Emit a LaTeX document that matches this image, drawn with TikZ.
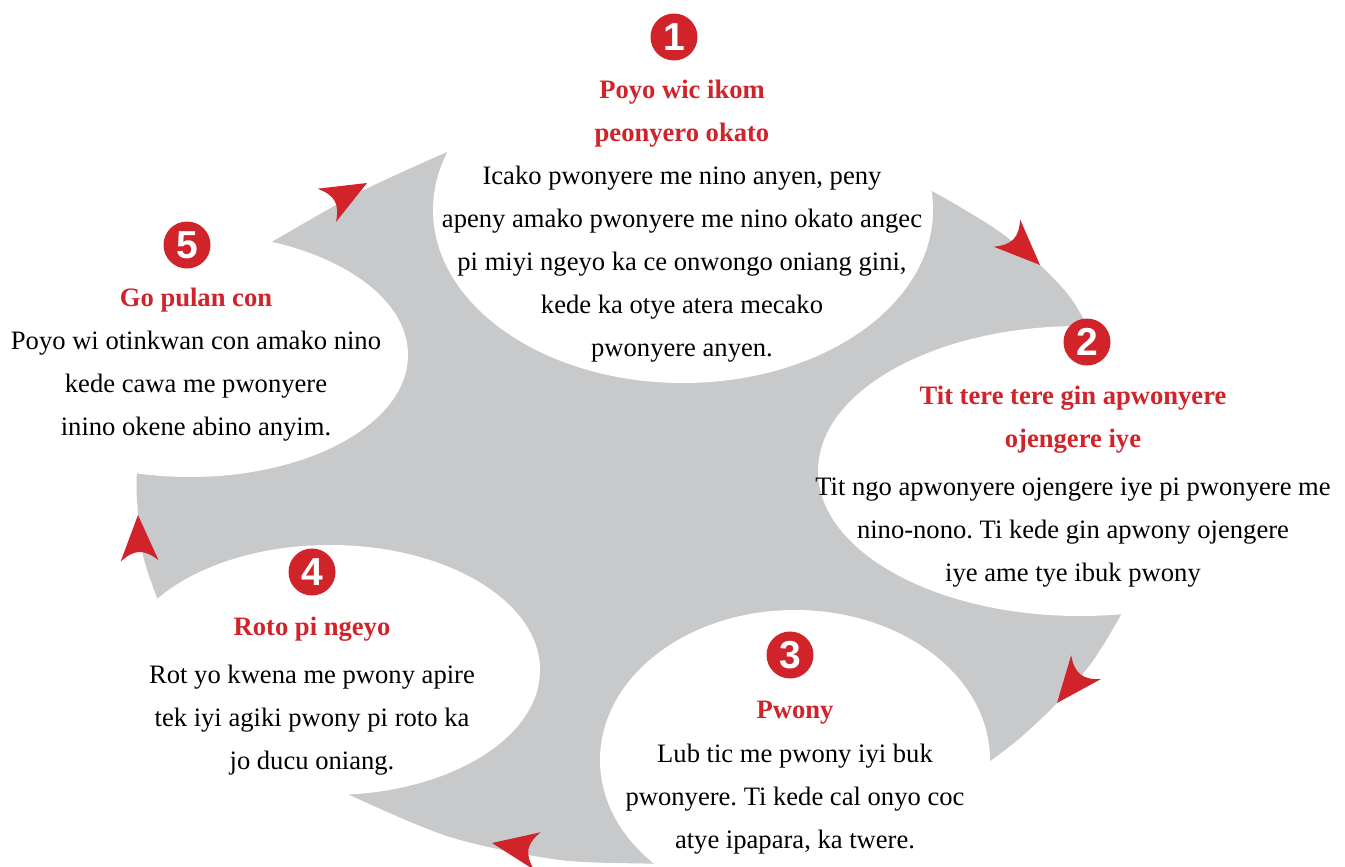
\documentclass[tikz,border=0pt]{standalone}
\usepackage{fontspec}
\setmainfont{Liberation Serif}
\newfontfamily\numfont{Liberation Sans}
\frenchspacing
\definecolor{ringgrey}{RGB}{200,201,203}
\definecolor{tipred}{RGB}{209,35,42}
\tikzset{
  hole/.style={fill=white},
  numdisc/.style={circle, fill=tipred, minimum size=23.5pt, inner sep=0pt, text=white,
    font=\fontsize{19.5}{20}\numfont\bfseries},
  headtext/.style={text=tipred, align=center, inner sep=0pt,
    font=\fontsize{13.3}{21.5}\selectfont\bfseries},
  bodytext/.style={align=center, inner sep=0pt, font=\fontsize{13.3}{21.5}\selectfont},
  redhead/.pic={\fill[tipred] (0,0) -- (-46,19) .. controls (-34,5) and (-34,-5) .. (-46,-19) -- cycle;}
}
\begin{document}
\begin{tikzpicture}[x=0.5pt, y=-0.5pt]
\useasboundingbox (0,0) rectangle (1345,867);
% grey ring, blades joined inside the white holes
\fill[ringgrey] plot[smooth] coordinates {(170,635) (157,598) (143,555) (137,500) (137,470) (140,440)}
  -- plot[smooth] coordinates {(240,260) (275,240) (360,192) (447,152) (480,138)}
  -- plot[smooth] coordinates {(905,177) (930,190) (960,207) (1000,232) (1040,265) (1070,297) (1090,330) (1100,345)}
  -- plot[smooth] coordinates {(1140,575) (1122,613) (1092,662) (1057,703) (1020,738) (985,765) (960,783)}
  -- plot[smooth] coordinates {(700,868) (660,864) (560,860) (450,837) (345,793) (310,775)}
  -- cycle;
\fill[hole] (683,210) ellipse [x radius=250, y radius=173];
\fill[hole] (1080,471) ellipse [x radius=262, y radius=145];
\fill[hole] (795,760) ellipse [x radius=195, y radius=150];
\fill[hole] (330,670) ellipse [x radius=210, y radius=125];
\fill[hole] (190,355) ellipse [x radius=218, y radius=122];
\pic[rotate=29] at (367,183) {redhead};
\pic[rotate=-44] at (1040,265) {redhead};
\pic[rotate=-129] at (1057,703) {redhead};
\pic[rotate=170] at (492,843) {redhead};
\pic[rotate=92] at (138,515) {redhead};
\node[numdisc] (n1) at (674,37) {1};
\node[headtext] (t1) at (682,114) {Poyo wic ikom\\peonyero okato};
\node[bodytext] (b1) at (682,264) {Icako pwonyere me nino anyen, peny\\apeny amako pwonyere me nino okato angec\\pi miyi ngeyo ka ce onwongo oniang gini,\\kede ka otye atera mecako\\pwonyere anyen.};
\node[numdisc] (n2) at (1087,342) {2};
\node[headtext] (t2) at (1073,420) {Tit tere tere gin apwonyere\\ojengere iye};
\node[bodytext] (b2) at (1073,533) {Tit ngo apwonyere ojengere iye pi pwonyere me\\nino-nono. Ti kede gin apwony ojengere\\iye ame tye ibuk pwony};
\node[numdisc] (n3) at (790,655) {3};
\node[headtext] (t3) at (795,713) {Pwony};
\node[bodytext] (b3) at (795,799) {Lub tic me pwony iyi buk\\pwonyere. Ti kede cal onyo coc\\atye ipapara, ka twere.};
\node[numdisc] (n4) at (312,572) {4};
\node[headtext] (t4) at (312,629) {Roto pi ngeyo};
\node[bodytext] (b4) at (312,720) {Rot yo kwena me pwony apire\\tek iyi agiki pwony pi roto ka\\jo ducu oniang.};
\node[numdisc] (n5) at (187,245) {5};
\node[headtext] (t5) at (196,300) {Go pulan con};
\node[bodytext] (b5) at (196,386) {Poyo wi otinkwan con amako nino\\kede cawa me pwonyere\\inino okene abino anyim.};
\end{tikzpicture}
\end{document}
